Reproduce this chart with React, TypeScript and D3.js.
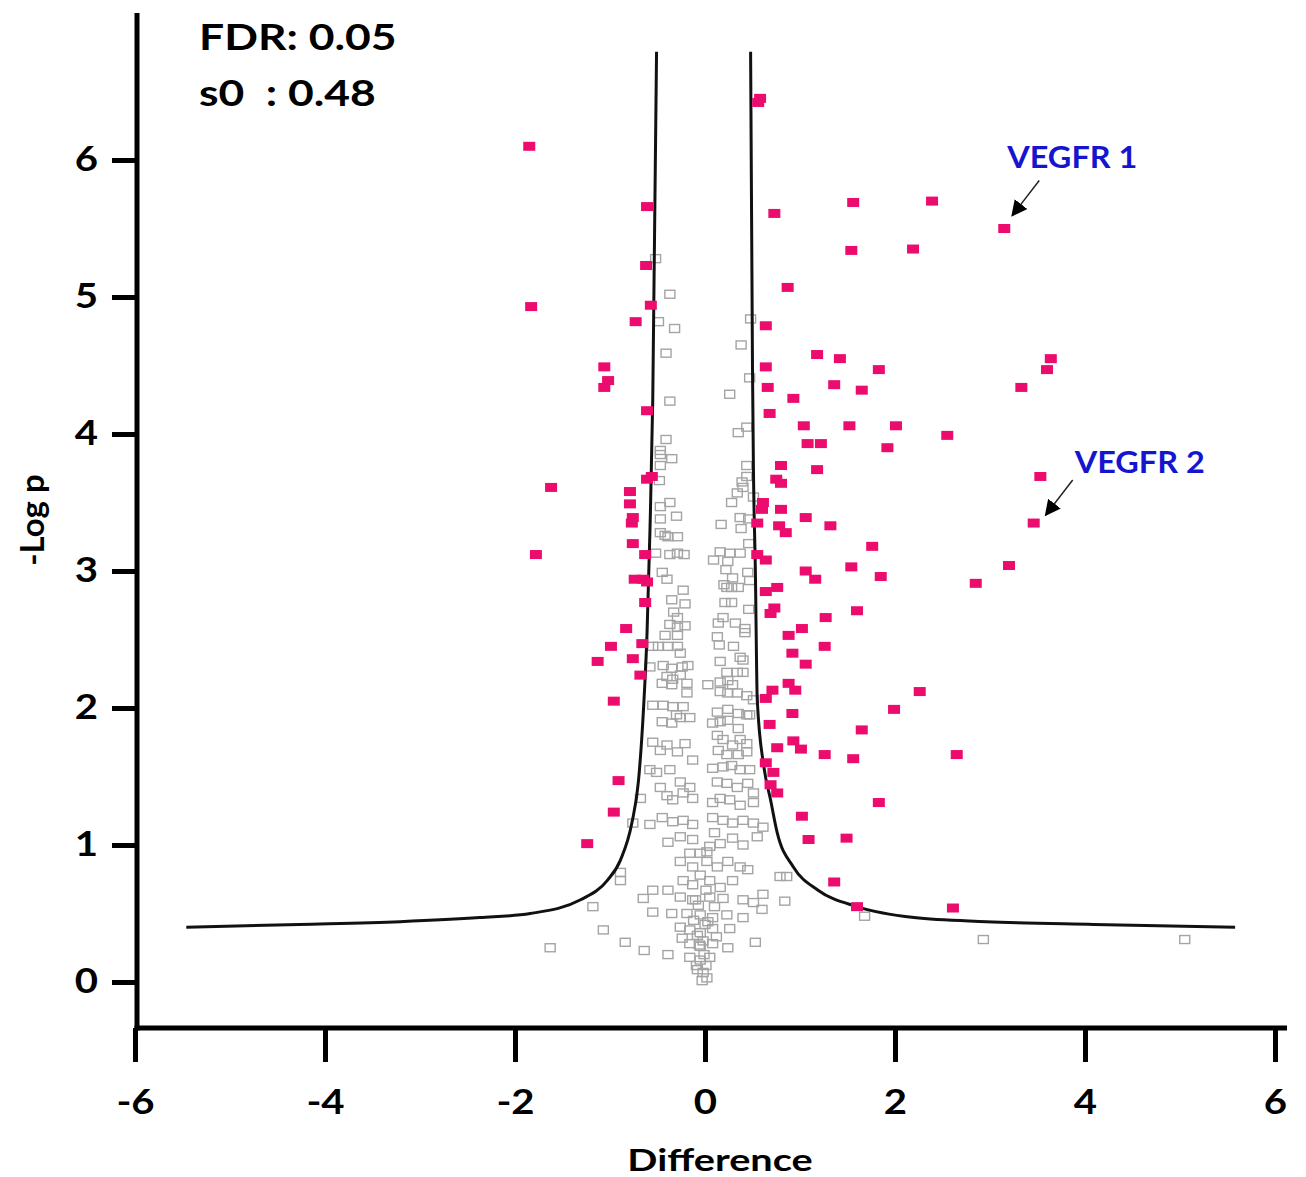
import * as d3 from "d3";
import React, { useRef, useEffect } from "react";

// axis ticks
const xTicks = [-6, -4, -2, 0, 2, 4, 6];
const yTicks = [0, 1, 2, 3, 4, 5, 6];

// significant proteins (pink), [difference, -log p]
const significant = [
  [-1.85, 6.10], [-1.83, 4.93], [-0.61, 5.66], [-0.62, 5.23], [-0.57, 4.94], [-0.73, 4.82],
  [-1.06, 4.49], [-1.02, 4.39], [-1.06, 4.34], [-0.61, 4.17], [-0.61, 3.67], [-0.56, 3.69],
  [-1.62, 3.61], [-0.79, 3.58], [-0.79, 3.49], [-0.76, 3.39], [-0.77, 3.35], [-0.76, 3.20],
  [-0.63, 3.12], [-1.78, 3.12], [-0.74, 2.94], [-0.65, 2.94], [-0.61, 2.92], [-0.63, 2.77],
  [-0.83, 2.58], [-0.66, 2.47], [-0.99, 2.45], [-1.13, 2.34], [-0.76, 2.36], [-0.68, 2.24],
  [-0.96, 2.05], [-0.91, 1.47], [-0.96, 1.24], [-1.24, 1.01],
  [0.58, 6.45], [0.56, 6.42], [0.73, 5.61], [1.56, 5.69], [2.39, 5.70], [3.15, 5.50],
  [1.54, 5.34], [2.19, 5.35], [0.87, 5.07], [0.64, 4.79], [1.18, 4.58], [1.42, 4.55],
  [1.83, 4.47], [3.64, 4.55], [3.60, 4.47], [0.64, 4.49], [0.66, 4.34], [1.36, 4.36],
  [1.65, 4.32], [3.33, 4.34], [0.93, 4.26], [0.68, 4.15], [1.04, 4.06], [1.52, 4.06],
  [2.01, 4.06], [2.55, 3.99], [1.08, 3.93], [1.22, 3.93], [1.92, 3.90], [0.80, 3.77],
  [1.18, 3.74], [3.53, 3.69], [0.75, 3.67], [0.80, 3.64], [0.61, 3.50], [0.60, 3.45],
  [0.80, 3.45], [1.06, 3.39], [1.32, 3.33], [0.55, 3.35], [0.78, 3.33], [0.85, 3.28],
  [3.46, 3.35], [1.76, 3.18], [0.55, 3.12], [0.64, 3.08], [1.54, 3.03], [1.85, 2.96],
  [1.06, 3.00], [1.16, 2.94], [3.20, 3.04], [2.85, 2.91], [0.76, 2.88], [0.64, 2.85],
  [0.73, 2.73], [0.69, 2.69], [1.60, 2.71], [1.27, 2.66], [1.02, 2.58], [0.88, 2.53],
  [1.26, 2.45], [0.92, 2.40], [1.06, 2.32], [0.88, 2.18], [0.95, 2.13], [0.71, 2.13],
  [0.64, 2.07], [2.26, 2.12], [1.99, 1.99], [0.92, 1.96], [0.68, 1.88], [1.65, 1.84],
  [0.93, 1.76], [1.01, 1.70], [0.76, 1.71], [1.26, 1.66], [1.56, 1.63], [2.65, 1.66],
  [0.64, 1.60], [0.72, 1.53], [0.69, 1.44], [0.76, 1.38], [1.83, 1.31], [1.02, 1.21],
  [1.09, 1.04], [1.49, 1.05], [1.36, 0.73], [1.60, 0.55], [2.61, 0.54],
];

// non significant proteins (grey outline)
const notSignificant = [
  [-0.52, 5.28], [-0.37, 5.02], [-0.49, 4.82], [-0.32, 4.77], [-0.41, 4.59], [0.48, 4.84],
  [0.38, 4.65], [-0.37, 4.24], [0.26, 4.29], [0.47, 4.41], [0.44, 4.05], [0.35, 4.01],
  [-0.41, 3.96], [-0.47, 3.88], [-0.47, 3.85], [-0.35, 3.82], [-0.47, 3.77], [-0.48, 3.66],
  [0.44, 3.77], [0.44, 3.69], [0.39, 3.65], [0.40, 3.61], [0.34, 3.57], [0.51, 3.54],
  [-0.37, 3.50], [-0.47, 3.47], [0.28, 3.50], [0.37, 3.39], [-0.47, 3.38], [0.46, 3.38],
  [0.17, 3.34], [0.38, 3.31], [-0.47, 3.28], [-0.42, 3.26], [-0.39, 3.25], [-0.29, 3.25],
  [0.46, 3.20], [-0.52, 3.13], [-0.37, 3.12], [-0.29, 3.13], [-0.22, 3.12], [0.16, 3.14],
  [0.26, 3.13], [0.37, 3.13], [0.09, 3.08], [0.24, 3.07], [0.22, 3.01], [-0.45, 2.99],
  [-0.40, 2.94], [0.45, 2.99], [0.47, 2.93], [0.29, 2.95], [0.23, 2.88], [0.28, 2.88],
  [0.35, 2.88], [-0.23, 2.86], [-0.35, 2.79], [-0.21, 2.76], [0.21, 2.77], [0.28, 2.77],
  [0.46, 2.72], [-0.29, 2.66], [-0.37, 2.61], [-0.42, 2.53], [-0.29, 2.59], [-0.21, 2.60],
  [-0.29, 2.53], [0.19, 2.66], [0.14, 2.62], [0.32, 2.62], [0.42, 2.58], [0.42, 2.55],
  [0.13, 2.52], [0.15, 2.46], [-0.55, 2.45], [-0.49, 2.45], [-0.39, 2.45], [-0.29, 2.45],
  [-0.26, 2.40], [0.37, 2.37], [0.40, 2.35], [0.16, 2.34], [-0.44, 2.31], [-0.35, 2.29],
  [-0.24, 2.30], [-0.18, 2.31], [-0.58, 2.30], [0.23, 2.26], [0.34, 2.26], [0.40, 2.26],
  [-0.40, 2.23], [-0.34, 2.21], [-0.26, 2.24], [-0.45, 2.18], [-0.35, 2.17], [-0.19, 2.18],
  [0.03, 2.17], [0.16, 2.19], [0.24, 2.20], [0.29, 2.17], [-0.19, 2.11], [0.16, 2.12],
  [0.24, 2.11], [0.34, 2.11], [0.44, 2.09], [0.51, 2.06], [-0.55, 2.02], [-0.44, 2.02],
  [-0.34, 2.01], [-0.23, 2.01], [0.13, 1.97], [0.24, 1.99], [0.35, 1.96], [0.44, 1.95],
  [-0.45, 1.90], [-0.35, 1.89], [-0.26, 1.93], [-0.16, 1.93], [0.08, 1.89], [0.16, 1.90],
  [0.24, 1.91], [0.35, 1.85], [0.47, 1.95], [-0.55, 1.75], [-0.47, 1.69], [-0.40, 1.73],
  [-0.29, 1.68], [-0.21, 1.74], [0.13, 1.80], [0.19, 1.77], [0.29, 1.73], [0.37, 1.77],
  [0.44, 1.74], [0.14, 1.69], [0.23, 1.66], [0.35, 1.66], [0.44, 1.68], [-0.13, 1.62],
  [-0.58, 1.55], [-0.51, 1.53], [-0.37, 1.55], [0.08, 1.56], [0.19, 1.57], [0.28, 1.58],
  [0.37, 1.55], [0.47, 1.55], [-0.47, 1.42], [-0.26, 1.46], [-0.16, 1.42], [0.13, 1.46],
  [0.23, 1.45], [0.34, 1.42], [0.45, 1.45], [0.51, 1.38], [-0.68, 1.34], [-0.40, 1.36],
  [-0.34, 1.33], [-0.23, 1.38], [-0.13, 1.34], [0.08, 1.31], [0.16, 1.34], [0.26, 1.33],
  [0.37, 1.29], [0.51, 1.31], [-0.76, 1.16], [-0.58, 1.15], [-0.45, 1.20], [-0.34, 1.17],
  [-0.23, 1.18], [-0.13, 1.15], [0.08, 1.20], [0.19, 1.18], [0.29, 1.16], [0.40, 1.18],
  [0.51, 1.16], [0.61, 1.13], [-0.39, 1.02], [-0.26, 1.06], [-0.13, 1.04], [0.05, 0.99],
  [0.16, 1.01], [0.29, 1.05], [0.40, 1.00], [0.55, 1.06], [-0.16, 0.94], [-0.05, 0.94],
  [-0.26, 0.88], [-0.13, 0.84], [0.02, 0.88], [0.13, 0.84], [0.24, 0.88], [0.37, 0.84],
  [0.45, 0.82], [-0.89, 0.80], [-0.89, 0.74], [-0.23, 0.74], [-0.13, 0.71], [0.05, 0.74],
  [0.16, 0.69], [0.29, 0.74], [0.79, 0.77], [0.86, 0.77], [-0.55, 0.67], [-0.39, 0.67],
  [-0.65, 0.61], [-0.26, 0.62], [-0.13, 0.60], [0.05, 0.62], [0.19, 0.61], [0.40, 0.60],
  [0.51, 0.58], [0.61, 0.64], [0.60, 0.53], [0.84, 0.59], [-1.18, 0.55], [-0.55, 0.51],
  [-0.35, 0.50], [-0.19, 0.50], [-0.05, 0.49], [0.08, 0.47], [0.23, 0.49], [0.40, 0.47],
  [-1.07, 0.38], [-0.26, 0.40], [-0.16, 0.38], [-0.05, 0.36], [0.08, 0.39], [0.26, 0.39],
  [-1.63, 0.25], [-0.84, 0.29], [-0.64, 0.23], [-0.39, 0.20], [-0.24, 0.32], [-0.16, 0.28],
  [-0.05, 0.26], [0.08, 0.28], [0.24, 0.25], [0.53, 0.29], [-0.16, 0.18], [-0.05, 0.16],
  [0.05, 0.18], [-0.08, 0.09], [-0.02, 0.07], [-0.03, 0.01], [1.68, 0.48], [2.93, 0.31],
  [5.05, 0.31], [-0.08, 0.34], [0.0, 0.42], [-0.07, 0.56], [0.01, 0.67], [-0.05, 0.78],
  [-0.01, 0.20], [0.01, 0.12], [-0.06, 0.27], [-0.10, 0.60], [0.10, 0.55], [-0.02, 0.30],
  [0.03, 0.44], [-0.09, 0.12], [0.02, 0.03], [0.12, 0.33], [-0.12, 0.45], [0.02, 0.95],
  [0.10, 1.09], [-0.30, 1.95], [0.30, 2.45], [-0.33, 2.70], [0.20, 2.90], [-0.30, 3.40],
];

// FDR threshold curve
const curveLeft = [
  [-5.46, 0.40], [-4.27, 0.42], [-3.21, 0.44], [-2.37, 0.47], [-1.84, 0.50], [-1.31, 0.60],
  [-1.03, 0.74], [-0.89, 0.89], [-0.77, 1.16], [-0.70, 1.47], [-0.65, 1.96], [-0.61, 2.55],
  [-0.58, 3.28], [-0.55, 4.25], [-0.51, 6.79],
];
const curveRight = [
  [0.48, 6.79], [0.50, 4.47], [0.51, 3.74], [0.53, 3.01], [0.55, 2.06], [0.62, 1.57],
  [0.69, 1.33], [0.76, 1.09], [0.93, 0.84], [1.19, 0.67], [1.60, 0.55], [2.20, 0.47],
  [2.96, 0.44], [4.09, 0.42], [5.58, 0.40],
];

const annotations = [
  { label: "VEGFR 1", x: 3.15, y: 5.50, tip: [8, -13], tail: [35, -48], text: [3, -61] },
  { label: "VEGFR 2", x: 3.46, y: 3.35, tip: [12, -8], tail: [39, -43], text: [41, -50] },
];

const FONT = "Lato, 'Open Sans', sans-serif";

export default function App() {
  const ref = useRef(null);

  useEffect(() => {
    const width = 1306;
    const height = 1177;
    const svg = d3.select(ref.current).attr("width", width).attr("height", height);
    svg.selectAll("*").remove();

    const x = d3.scaleLinear().domain([-6, 6]).range([135, 1275]);
    const y = d3.scaleLinear().domain([0, 6]).range([982, 160]);
    const axisX = 137;
    const axisY = 1028;
    const stretch = 1.18; // the figure's lettering is a little wider than Lato

    svg.append("rect").attr("width", width).attr("height", height).attr("fill", "#fff");

    // axes
    const yAxis = svg.append("g")
      .attr("transform", `translate(${axisX},0)`)
      .call(d3.axisLeft(y).tickValues(yTicks).tickSize(25).tickPadding(8).tickFormat(d3.format("d")));
    const xAxis = svg.append("g")
      .attr("transform", `translate(0,${axisY})`)
      .call(d3.axisBottom(x).tickValues(xTicks).tickSize(34).tickPadding(28).tickFormat(d3.format("d")));
    [xAxis, yAxis].forEach((g) => {
      g.select(".domain").remove();
      g.selectAll(".tick line").attr("stroke", "#000").attr("stroke-width", 5);
      g.selectAll(".tick text")
        .attr("fill", "#000")
        .attr("transform", `scale(${stretch},1)`)
        .style("font-family", FONT)
        .style("font-weight", "bold")
        .style("font-size", "34px");
    });
    // plain hyphen for negatives, as in the figure
    xAxis.selectAll(".tick text").text((d) => String(d));

    svg.append("line")
      .attr("x1", axisX).attr("x2", axisX).attr("y1", 13).attr("y2", axisY + 2.5)
      .attr("stroke", "#000").attr("stroke-width", 5);
    svg.append("line")
      .attr("x1", axisX - 2.5).attr("x2", 1287).attr("y1", axisY).attr("y2", axisY)
      .attr("stroke", "#000").attr("stroke-width", 5);

    // grey non-significant
    svg.append("g").selectAll("rect").data(notSignificant).enter().append("rect")
      .attr("x", (d) => x(d[0]) - 5)
      .attr("y", (d) => y(d[1]) - 4)
      .attr("width", 10)
      .attr("height", 8)
      .attr("fill", "none")
      .attr("stroke", "#a4a4a4")
      .attr("stroke-width", 1.4);

    // threshold curves
    const line = d3.line().x((d) => x(d[0])).y((d) => y(d[1])).curve(d3.curveMonotoneX);
    [curveLeft, curveRight].forEach((c) => {
      svg.append("path")
        .attr("d", line(c))
        .attr("fill", "none")
        .attr("stroke", "#111")
        .attr("stroke-width", 3);
    });

    // significant
    svg.append("g").selectAll("rect").data(significant).enter().append("rect")
      .attr("x", (d) => x(d[0]) - 6)
      .attr("y", (d) => y(d[1]) - 4.5)
      .attr("width", 12)
      .attr("height", 9)
      .attr("fill", "#ec0c6e");

    // annotations
    const defs = svg.append("defs");
    defs.append("marker")
      .attr("id", "arrowhead")
      .attr("viewBox", "0 0 10 10")
      .attr("refX", 9).attr("refY", 5)
      .attr("markerWidth", 16).attr("markerHeight", 16)
      .attr("markerUnits", "userSpaceOnUse")
      .attr("orient", "auto")
      .append("path").attr("d", "M0,0 L10,5 L0,10 Z").attr("fill", "#000");

    annotations.forEach((a) => {
      const px = x(a.x);
      const py = y(a.y);
      svg.append("line")
        .attr("x1", px + a.tail[0]).attr("y1", py + a.tail[1])
        .attr("x2", px + a.tip[0]).attr("y2", py + a.tip[1])
        .attr("stroke", "#222").attr("stroke-width", 1.5)
        .attr("marker-end", "url(#arrowhead)");
      svg.append("text")
        .attr("transform", `translate(${px + a.text[0]},${py + a.text[1]}) scale(1.08,1)`)
        .attr("fill", "#1515d0")
        .style("font-family", FONT)
        .style("font-weight", "bold")
        .style("font-size", "30px")
        .text(a.label);
    });

    // titles
    svg.append("text")
      .attr("transform", "translate(720,1171) scale(1.28,1)")
      .attr("text-anchor", "middle")
      .style("font-family", FONT).style("font-weight", "bold").style("font-size", "31px")
      .text("Difference");
    svg.append("text")
      .attr("transform", "translate(44,520) rotate(-90)")
      .attr("text-anchor", "middle")
      .style("font-family", FONT).style("font-weight", "bold").style("font-size", "33px")
      .text("-Log p");

    svg.append("text")
      .attr("transform", `translate(199,50) scale(1.2,1)`)
      .style("font-family", FONT).style("font-weight", "bold").style("font-size", "37px")
      .text("FDR: 0.05");
    svg.append("text")
      .attr("transform", `translate(199,106) scale(1.2,1)`)
      .attr("xml:space", "preserve")
      .style("white-space", "pre")
      .style("font-family", FONT).style("font-weight", "bold").style("font-size", "37px")
      .text("s0  : 0.48");
  }, []);

  return (
    <svg
      ref={ref}
      style={{ position: "absolute", left: 0, top: 0, display: "block" }}
    />
  );
}
